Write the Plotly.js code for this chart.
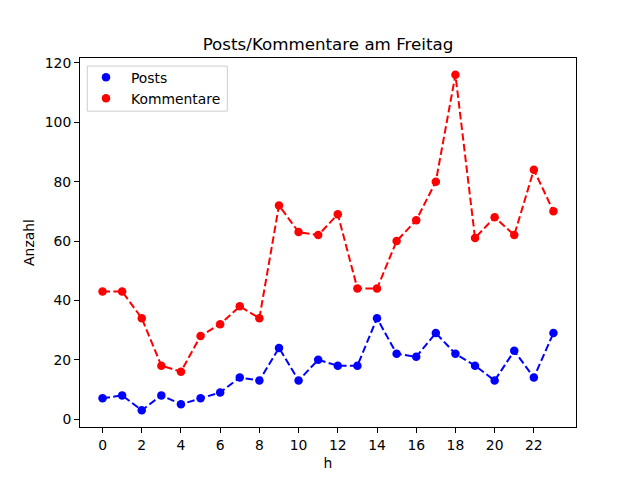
<!DOCTYPE html>
<html>
<head>
<meta charset="utf-8">
<script src="https://cdn.plot.ly/plotly-3.0.1.min.js"></script>
<style>
  body { margin: 0; background: #fff; }
  #chart { width: 640px; height: 480px; }
</style>
</head>
<body>
<div id="chart"></div>
<script>
// Stunden des Tages
const hours = [0, 1, 2, 3, 4, 5, 6, 7, 8, 9, 10, 11, 12, 13, 14, 15, 16, 17, 18, 19, 20, 21, 22, 23];
const posts = [7, 8, 3, 8, 5, 7, 9, 14, 13, 24, 13, 20, 18, 18, 34, 22, 21, 29, 22, 18, 13, 23, 14, 29];
const kommentare = [43, 43, 34, 18, 16, 28, 32, 38, 34, 72, 63, 62, 69, 44, 44, 60, 67, 80, 116, 61, 68, 62, 84, 70];
const xTicks = [0, 2, 4, 6, 8, 10, 12, 14, 16, 18, 20, 22];
const yTicks = [0, 20, 40, 60, 80, 100, 120];

const font = "DejaVu Sans, sans-serif";

// lines without legend, markers with legend (like the original)
function dashedLine(y, color) {
  return {
    x: hours, y: y, mode: "lines", type: "scatter",
    line: { color: color, width: 2, dash: "7.5px,3.3px" },
    showlegend: false, hoverinfo: "skip"
  };
}
function dots(y, color, name) {
  return {
    x: hours, y: y, mode: "markers", type: "scatter", name: name,
    marker: { color: color, size: 8.5 }
  };
}

const data = [
  dashedLine(posts, "#0000ff"),
  dashedLine(kommentare, "#ff0000"),
  dots(posts, "#0000ff", "Posts"),
  dots(kommentare, "#ff0000", "Kommentare")
];

const axisBase = {
  showgrid: false, zeroline: false,
  showline: true, linecolor: "#000", linewidth: 1, mirror: true,
  ticks: "outside", ticklen: 5, tickwidth: 1, tickcolor: "#000",
  tickfont: { family: font, size: 13.9, color: "#000" }
};

const layout = {
  width: 640, height: 480,
  margin: { l: 80, r: 64, t: 58, b: 53 },
  paper_bgcolor: "#fff", plot_bgcolor: "#fff",
  title: {
    text: "Posts/Kommentare am Freitag",
    font: { family: font, size: 16.7, color: "#000" },
    x: 0.5, xref: "paper", y: 1, yref: "paper", yanchor: "bottom", pad: { b: 8 }
  },
  xaxis: Object.assign({}, axisBase, {
    range: [-1.15, 24.15], tickvals: xTicks,
    title: { text: "h", font: { family: font, size: 13.9, color: "#000" }, standoff: 6 }
  }),
  yaxis: Object.assign({}, axisBase, {
    range: [-2.65, 121.65], tickvals: yTicks,
    title: { text: "Anzahl", font: { family: font, size: 13.9, color: "#000" }, standoff: 6 }
  }),
  showlegend: true,
  legend: {
    x: 0.002, y: 0.99, xanchor: "left", yanchor: "top",
    bgcolor: "rgba(0,0,0,0)", borderwidth: 0, itemwidth: 40,
    font: { family: font, size: 13.9, color: "#000" },
    tracegroupgap: 0
  },
  // legend frame, drawn separately so it can hug the entries like matplotlib's
  shapes: [{
    type: "rect", xref: "paper", yref: "paper", layer: "below",
    x0: 0.0147, x1: 0.297, y0: 0.856, y1: 0.978,
    line: { color: "#cccccc", width: 1 }, fillcolor: "rgba(255,255,255,0.8)"
  }]
};

Plotly.newPlot("chart", data, layout, { displayModeBar: false, staticPlot: true });
</script>
</body>
</html>
